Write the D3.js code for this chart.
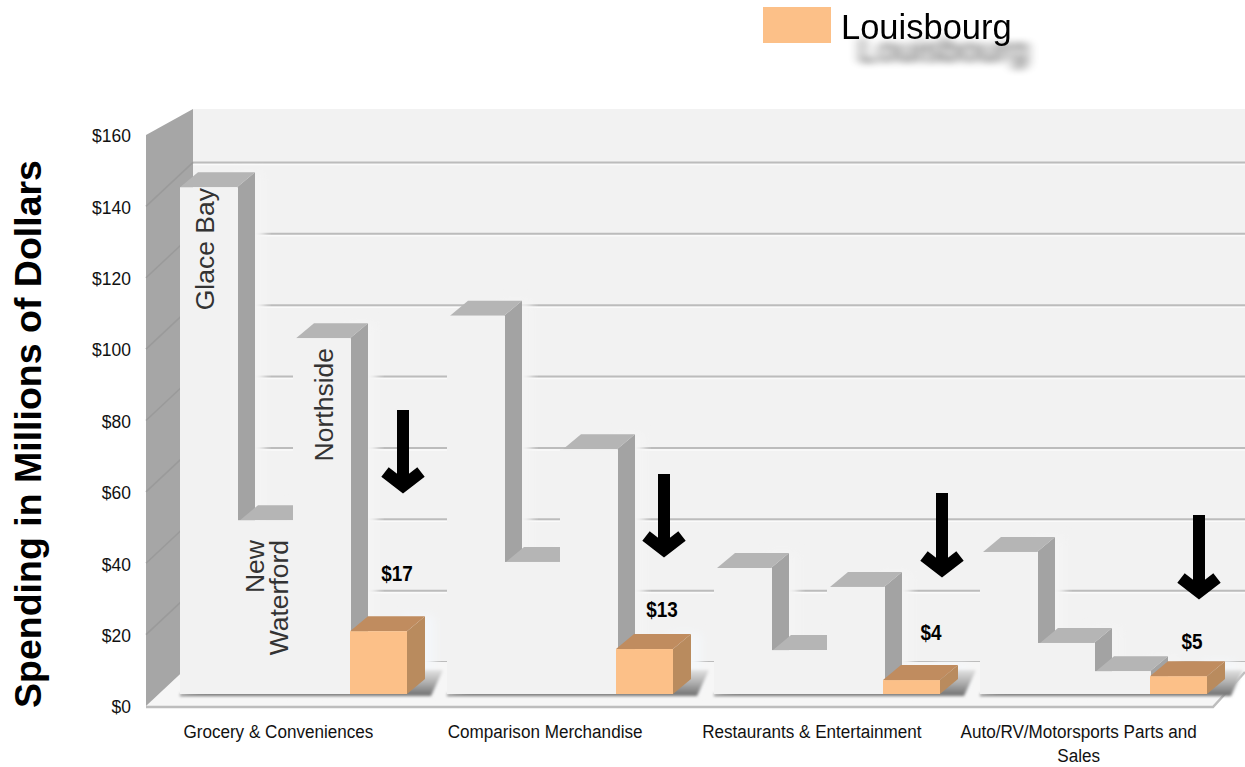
<!DOCTYPE html>
<html>
<head>
<meta charset="utf-8">
<script src="https://cdn.jsdelivr.net/npm/d3@7"></script>
<style>
  html, body { margin: 0; padding: 0; background: #fff; }
  svg { display: block; }
</style>
</head>
<body>
<svg id="drawing_region"></svg>
<script>
const categories = ["Grocery & Conveniences", "Comparison Merchandise", "Restaurants & Entertainment", "Auto/RV/Motorsports Parts and Sales"];
const towns = ["Glace Bay", "New Waterford", "Northside", "Louisbourg"];
const glaceBay = [142, 106, 35.3, 39.8];
const newWaterford = [48.7, 37, 12.3, 14.3];
const northside = [99.7, 68.6, 30, 6.4];
const louisbourg = [17.6, 12.6, 3.9, 5];
const louisbourgLabels = ["$17", "$13", "$4", "$5"];
const yTicks = [0, 20, 40, 60, 80, 100, 120, 140, 160];

// layout of the hand placed annotations, one per category
const labelPos = [{x: 397, y: 581}, {x: 662, y: 617}, {x: 931, y: 640}, {x: 1192, y: 649}];
const arrowPos = [{x: 403, top: 410, tip: 492}, {x: 664, top: 474, tip: 556}, {x: 942, top: 493, tip: 576}, {x: 1199, top: 515, tip: 598}];

const width = 1245, height = 767;
const depth = {x: 18, y: 15};      // bar extrusion
const wall = {x: 47, y: 44};       // back wall offset from the axis plane
const barLift = 12;                // bars stand this far behind the axis baseline
const font = "'Liberation Sans', Arial, sans-serif";

const svg = d3.select("#drawing_region").attr("width", width).attr("height", height);

const defs = svg.append("defs");
defs.append("filter").attr("id", "blur").attr("x", "-20%").attr("y", "-80%").attr("width", "140%").attr("height", "260%")
    .append("feGaussianBlur").attr("stdDeviation", 1.8);
defs.append("filter").attr("id", "halo").attr("x", "-20%").attr("y", "-20%").attr("width", "140%").attr("height", "140%")
    .append("feGaussianBlur").attr("stdDeviation", 5);
const ls = defs.append("filter").attr("id", "legendShadow").attr("x", "-10%").attr("y", "-30%").attr("width", "130%").attr("height", "240%");
ls.append("feGaussianBlur").attr("in", "SourceAlpha").attr("stdDeviation", "6 3.5").attr("result", "b");
ls.append("feOffset").attr("in", "b").attr("dx", 17).attr("dy", 23).attr("result", "o");
ls.append("feComponentTransfer").attr("in", "o").attr("result", "s")
    .append("feFuncA").attr("type", "linear").attr("slope", 0.7);
const lm = ls.append("feMerge");
lm.append("feMergeNode").attr("in", "s");
lm.append("feMergeNode").attr("in", "SourceGraphic");

// floor shadow gets lighter towards the back wall
const shadeGrad = defs.append("linearGradient").attr("id", "floorShade").attr("x1", 0).attr("y1", 0).attr("x2", 0).attr("y2", 1);
shadeGrad.append("stop").attr("offset", "0%").attr("stop-color", "#e2e2e2");
shadeGrad.append("stop").attr("offset", "55%").attr("stop-color", "#a8a8a8");
shadeGrad.append("stop").attr("offset", "100%").attr("stop-color", "#6e6e6e");

const xscale = d3.scaleBand().domain(categories).range([146, 1213]);
const yscale = d3.scaleLinear().domain([0, 160]).range([706, 135]);
const inner = d3.scaleBand().domain(towns).range([34, 260]);

const poly = pts => pts.map(p => p.join(",")).join(" ");
const y0 = yscale(0);
const wallX = xscale.range()[0] + wall.x;
const wallTop = 109;

// back wall
svg.append("rect").attr("x", wallX).attr("y", wallTop).attr("width", width - wallX).attr("height", y0 - wall.y - wallTop).attr("fill", "#f2f2f2");

// gridlines
const grid = svg.append("g");
grid.selectAll("line.hi").data(yTicks.slice(0, -1)).enter().append("line")
    .attr("x1", wallX).attr("x2", width)
    .attr("y1", d => yscale(d) - wall.y + 2).attr("y2", d => yscale(d) - wall.y + 2)
    .attr("stroke", "#fafafa").attr("stroke-width", 1.5);
grid.selectAll("line.main").data(yTicks.slice(0, -1)).enter().append("line")
    .attr("x1", wallX).attr("x2", width)
    .attr("y1", d => yscale(d) - wall.y).attr("y2", d => yscale(d) - wall.y)
    .attr("stroke", "#bcbcbc").attr("stroke-width", 2);

// floor
svg.append("polygon")
    .attr("points", poly([[146, y0], [wallX, y0 - wall.y], [width, y0 - wall.y], [width, 672], [1213, y0 + 2], [146, y0 + 2]]))
    .attr("fill", "#f6f6f6");
svg.append("polyline")
    .attr("points", poly([[146, y0 + 1], [1213, y0 + 1], [width, 672]]))
    .attr("fill", "none").attr("stroke", "#bdbdbd").attr("stroke-width", 2.5);

// left wall
svg.append("polygon")
    .attr("points", poly([[146, yscale(160)], [wallX, wallTop], [wallX, y0 - wall.y], [146, y0]]))
    .attr("fill", "#a6a6a6");
svg.append("g").selectAll("line").data(yTicks.slice(1, -1)).enter().append("line")
    .attr("x1", 146).attr("x2", 146 + wall.x)
    .attr("y1", d => yscale(d)).attr("y2", d => yscale(d) - wall.y)
    .attr("stroke", "#9a9a9a").attr("stroke-width", 1.5);

const seriesValues = [glaceBay, newWaterford, northside, louisbourg];
const base = y0 - barLift;
const barH = v => yscale(0) - yscale(v);

categories.forEach((cat, i) => {
    const g = svg.append("g");
    const left = Math.round(xscale(cat) + inner(towns[0]));
    const right = Math.round(xscale(cat) + inner(towns[3])) + Math.round(inner.bandwidth());

    // soft light halo round the bars, it hides the gridlines close by
    towns.forEach((town, j) => {
        const bx = xscale(cat) + inner(town), bw = inner.bandwidth(), v = seriesValues[j][i];
        g.append("rect")
            .attr("x", bx + bw - 4).attr("y", base - barH(v) - depth.y)
            .attr("width", depth.x + 14).attr("height", barH(v) + depth.y - 4)
            .attr("fill", j == 3 ? "#f4f7fa" : "#f4f4f4").attr("filter", "url(#halo)");
    });

    // floor shadow of the group, drawn over the halo
    g.append("polygon")
        .attr("points", poly([[left, base], [right, base - 24], [right + 36, base - 24], [right + 24, base + 2], [left, base + 2]]))
        .attr("fill", "url(#floorShade)").attr("filter", "url(#blur)");

    towns.forEach((town, j) => {
        // whole pixels, so neighbouring fronts show no seam
        const bx = Math.round(xscale(cat) + inner(town)), bw = Math.round(inner.bandwidth()), v = seriesValues[j][i];
        const top = base - barH(v);
        const isL = j == 3;
        // the top faces start a little inside the front corner, except next to the wall
        const inset = (i == 0 && j == 0) || isL ? 0 : 3;
        g.append("polygon")
            .attr("points", poly([[bx + bw, top], [bx + bw + depth.x, top - depth.y], [bx + bw + depth.x, base - depth.y], [bx + bw, base]]))
            .attr("fill", isL ? "#b98b5e" : "#a3a3a3");
        g.append("polygon")
            .attr("points", poly([[bx + inset, top], [bx + bw, top], [bx + bw + depth.x, top - depth.y], [bx + inset + depth.x, top - depth.y]]))
            .attr("fill", isL ? "#c08c5f" : "#b5b5b5");
        g.append("rect")
            .attr("x", bx).attr("y", top).attr("width", bw + (isL ? 0 : 1)).attr("height", barH(v))
            .attr("fill", isL ? "#fcc088" : "#f2f2f2");
    });
});

// y axis
const yaxis = d3.axisLeft(yscale).tickValues(yTicks).tickSize(0).tickPadding(0).tickFormat(d => "$" + d);
const yaxisGroup = svg.append("g").attr("transform", "translate(131,0)").call(yaxis);
yaxisGroup.select(".domain").remove();
yaxisGroup.selectAll("text").attr("font-family", font).attr("font-size", 19).attr("fill", "#111")
    .attr("dy", "0.36em").attr("transform", "scale(0.92,1)");

// x axis labels, the long one wraps on two lines
const xlabels = svg.append("g");
categories.forEach(cat => {
    const lines = cat.length > 30 ? [cat.slice(0, cat.lastIndexOf(" ")), cat.slice(cat.lastIndexOf(" ") + 1)] : [cat];
    lines.forEach((t, k) => {
        xlabels.append("text")
            .attr("transform", `translate(${xscale(cat) + xscale.bandwidth() / 2 - 1},${738 + k * 24}) scale(0.9,1)`)
            .attr("text-anchor", "middle").attr("font-family", font).attr("font-size", 19).attr("fill", "#111")
            .text(t);
    });
});

// y title
svg.append("text")
    .attr("transform", "translate(41,434) rotate(-90)")
    .attr("text-anchor", "middle").attr("font-family", font).attr("font-weight", "bold").attr("font-size", 37.5).attr("fill", "#000")
    .text("Spending in Millions of Dollars");

// town names inside the first group of bars
const vertical = (x, y, t) => svg.append("text")
    .attr("transform", `translate(${x},${y}) rotate(-90)`)
    .attr("text-anchor", "end").attr("font-family", font).attr("font-size", 26.5).attr("fill", "#333")
    .text(t);
const cat0 = xscale(categories[0]);
vertical(cat0 + inner(towns[0]) + 34, 188, "Glace Bay");
vertical(cat0 + inner(towns[1]) + 27, 540, "New");
vertical(cat0 + inner(towns[1]) + 51, 540, "Waterford");
vertical(cat0 + inner(towns[2]) + 40, 348, "Northside");

// value labels over the Louisbourg bars
svg.append("g").selectAll("text").data(louisbourgLabels).enter().append("text")
    .attr("transform", (d, i) => `translate(${labelPos[i].x},${labelPos[i].y}) scale(0.86,1)`)
    .attr("text-anchor", "middle").attr("font-family", font).attr("font-weight", "bold").attr("font-size", 22).attr("fill", "#000")
    .text(d => d);

// arrows
const arrows = svg.append("g");
arrowPos.forEach(a => {
    arrows.append("line").attr("x1", a.x).attr("x2", a.x).attr("y1", a.top).attr("y2", a.tip - 8)
        .attr("stroke", "#000").attr("stroke-width", 12);
    arrows.append("polyline")
        .attr("points", poly([[a.x - 18, a.tip - 20], [a.x, a.tip - 6], [a.x + 18, a.tip - 20]]))
        .attr("fill", "none").attr("stroke", "#000").attr("stroke-width", 12).attr("stroke-miterlimit", 10);
});

// legend
svg.append("rect").attr("x", 763).attr("y", 7).attr("width", 68).attr("height", 36).attr("fill", "#fcc088");
svg.append("text").attr("x", 841).attr("y", 39)
    .attr("font-family", font).attr("font-size", 34.5).attr("fill", "#000")
    .attr("filter", "url(#legendShadow)")
    .text(towns[3]);
</script>
</body>
</html>
